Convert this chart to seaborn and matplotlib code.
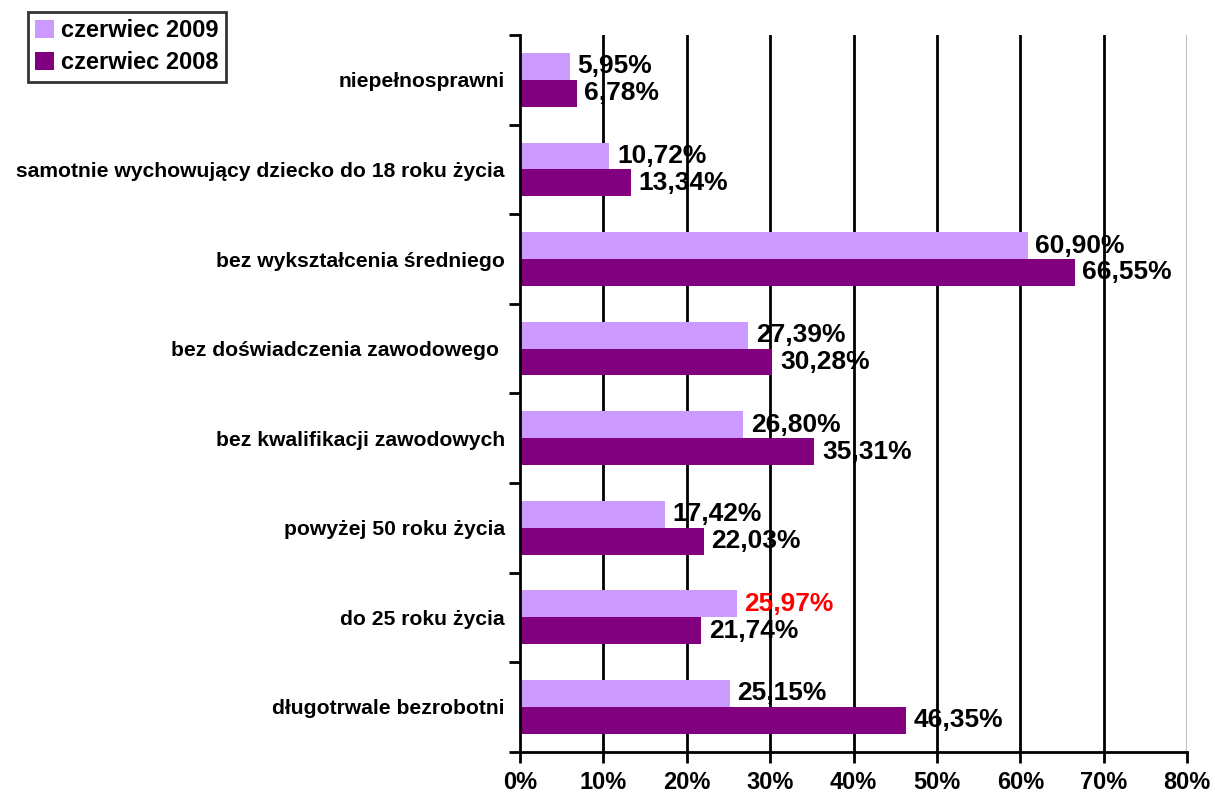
import pandas as pd
import numpy as np
import matplotlib.pyplot as plt
import seaborn as sns

kategorie = ['niepełnosprawni',
             'samotnie wychowujący dziecko do 18 roku życia',
             'bez wykształcenia średniego',
             'bez doświadczenia zawodowego ',
             'bez kwalifikacji zawodowych',
             'powyżej 50 roku życia',
             'do 25 roku życia',
             'długotrwale bezrobotni']
czerwiec_2009 = [5.95, 10.72, 60.90, 27.39, 26.80, 17.42, 25.97, 25.15]
czerwiec_2008 = [6.78, 13.34, 66.55, 30.28, 35.31, 22.03, 21.74, 46.35]
serie = ['czerwiec 2009', 'czerwiec 2008']
kolory = ['#CC99FF', '#800080']

df = pd.DataFrame({
    'kategoria': kategorie * 2,
    'wartosc': czerwiec_2009 + czerwiec_2008,
    'okres': [serie[0]] * len(kategorie) + [serie[1]] * len(kategorie),
})

sns.set_style('white')
plt.rcParams['font.family'] = ['Liberation Sans', 'DejaVu Sans']
plt.rcParams['text.color'] = 'black'
plt.rcParams['xtick.color'] = 'black'
plt.rcParams['ytick.color'] = 'black'

fig = plt.figure(figsize=(12.15, 7.98), dpi=100)
ax = fig.add_axes([0.428, 0.058, 0.549, 0.898])

sns.barplot(data=df, y='kategoria', x='wartosc', hue='okres', orient='h',
            palette=kolory, width=0.6, saturation=1, linewidth=0, ax=ax, legend=True)

ax.set_xlim(0, 80)
ax.set_ylim(len(kategorie) - 0.5, -0.5)
ax.set_xticks(range(0, 81, 10))
ax.set_xticklabels([f'{v}%' for v in range(0, 81, 10)], fontsize=17, fontweight='bold')
for v in range(10, 81, 10):
    ax.axvline(v, color='black' if v < 80 else '#c0c0c0', lw=2 if v < 80 else 1.5, zorder=0)

# etykiety kategorii bez kresek, kreski na granicach
ax.set_yticks(range(len(kategorie)))
ax.set_yticklabels(kategorie, fontsize=15.2, fontweight='bold')
ax.tick_params(axis='y', length=0, pad=11)
ax.set_yticks(np.arange(-0.5, len(kategorie), 1), minor=True)
ax.tick_params(axis='y', which='minor', length=8, width=2, direction='out', left=True)
ax.tick_params(axis='x', length=8, width=2, direction='out', bottom=True, pad=6)
ax.set_xlabel('')
ax.set_ylabel('')

for s in ['top', 'right']:
    ax.spines[s].set_visible(False)
for s in ['left', 'bottom']:
    ax.spines[s].set_linewidth(2)
    ax.spines[s].set_color('black')

for i, cont in enumerate(ax.containers):
    for j, bar in enumerate(cont):
        w = bar.get_width()
        kolor = 'red' if (i == 0 and kategorie[j] == 'do 25 roku życia') else 'black'
        ax.text(w + 0.9, bar.get_y() + bar.get_height() / 2,
                f'{w:.2f}%'.replace('.', ','), va='center', ha='left',
                fontsize=19, fontweight='bold', color=kolor)

ax.get_legend().remove()
h, l = ax.get_legend_handles_labels()
leg = fig.legend(h, l, loc='upper left', bbox_to_anchor=(0.023, 0.985),
                 prop={'weight': 'bold', 'size': 17}, frameon=True, fancybox=False,
                 edgecolor='black', handlelength=0.8, handleheight=0.8,
                 handletextpad=0.3, borderpad=0.3, labelspacing=0.4,
                 borderaxespad=0)
leg.get_frame().set_linewidth(2)

fig.savefig('out.png', dpi=100)
